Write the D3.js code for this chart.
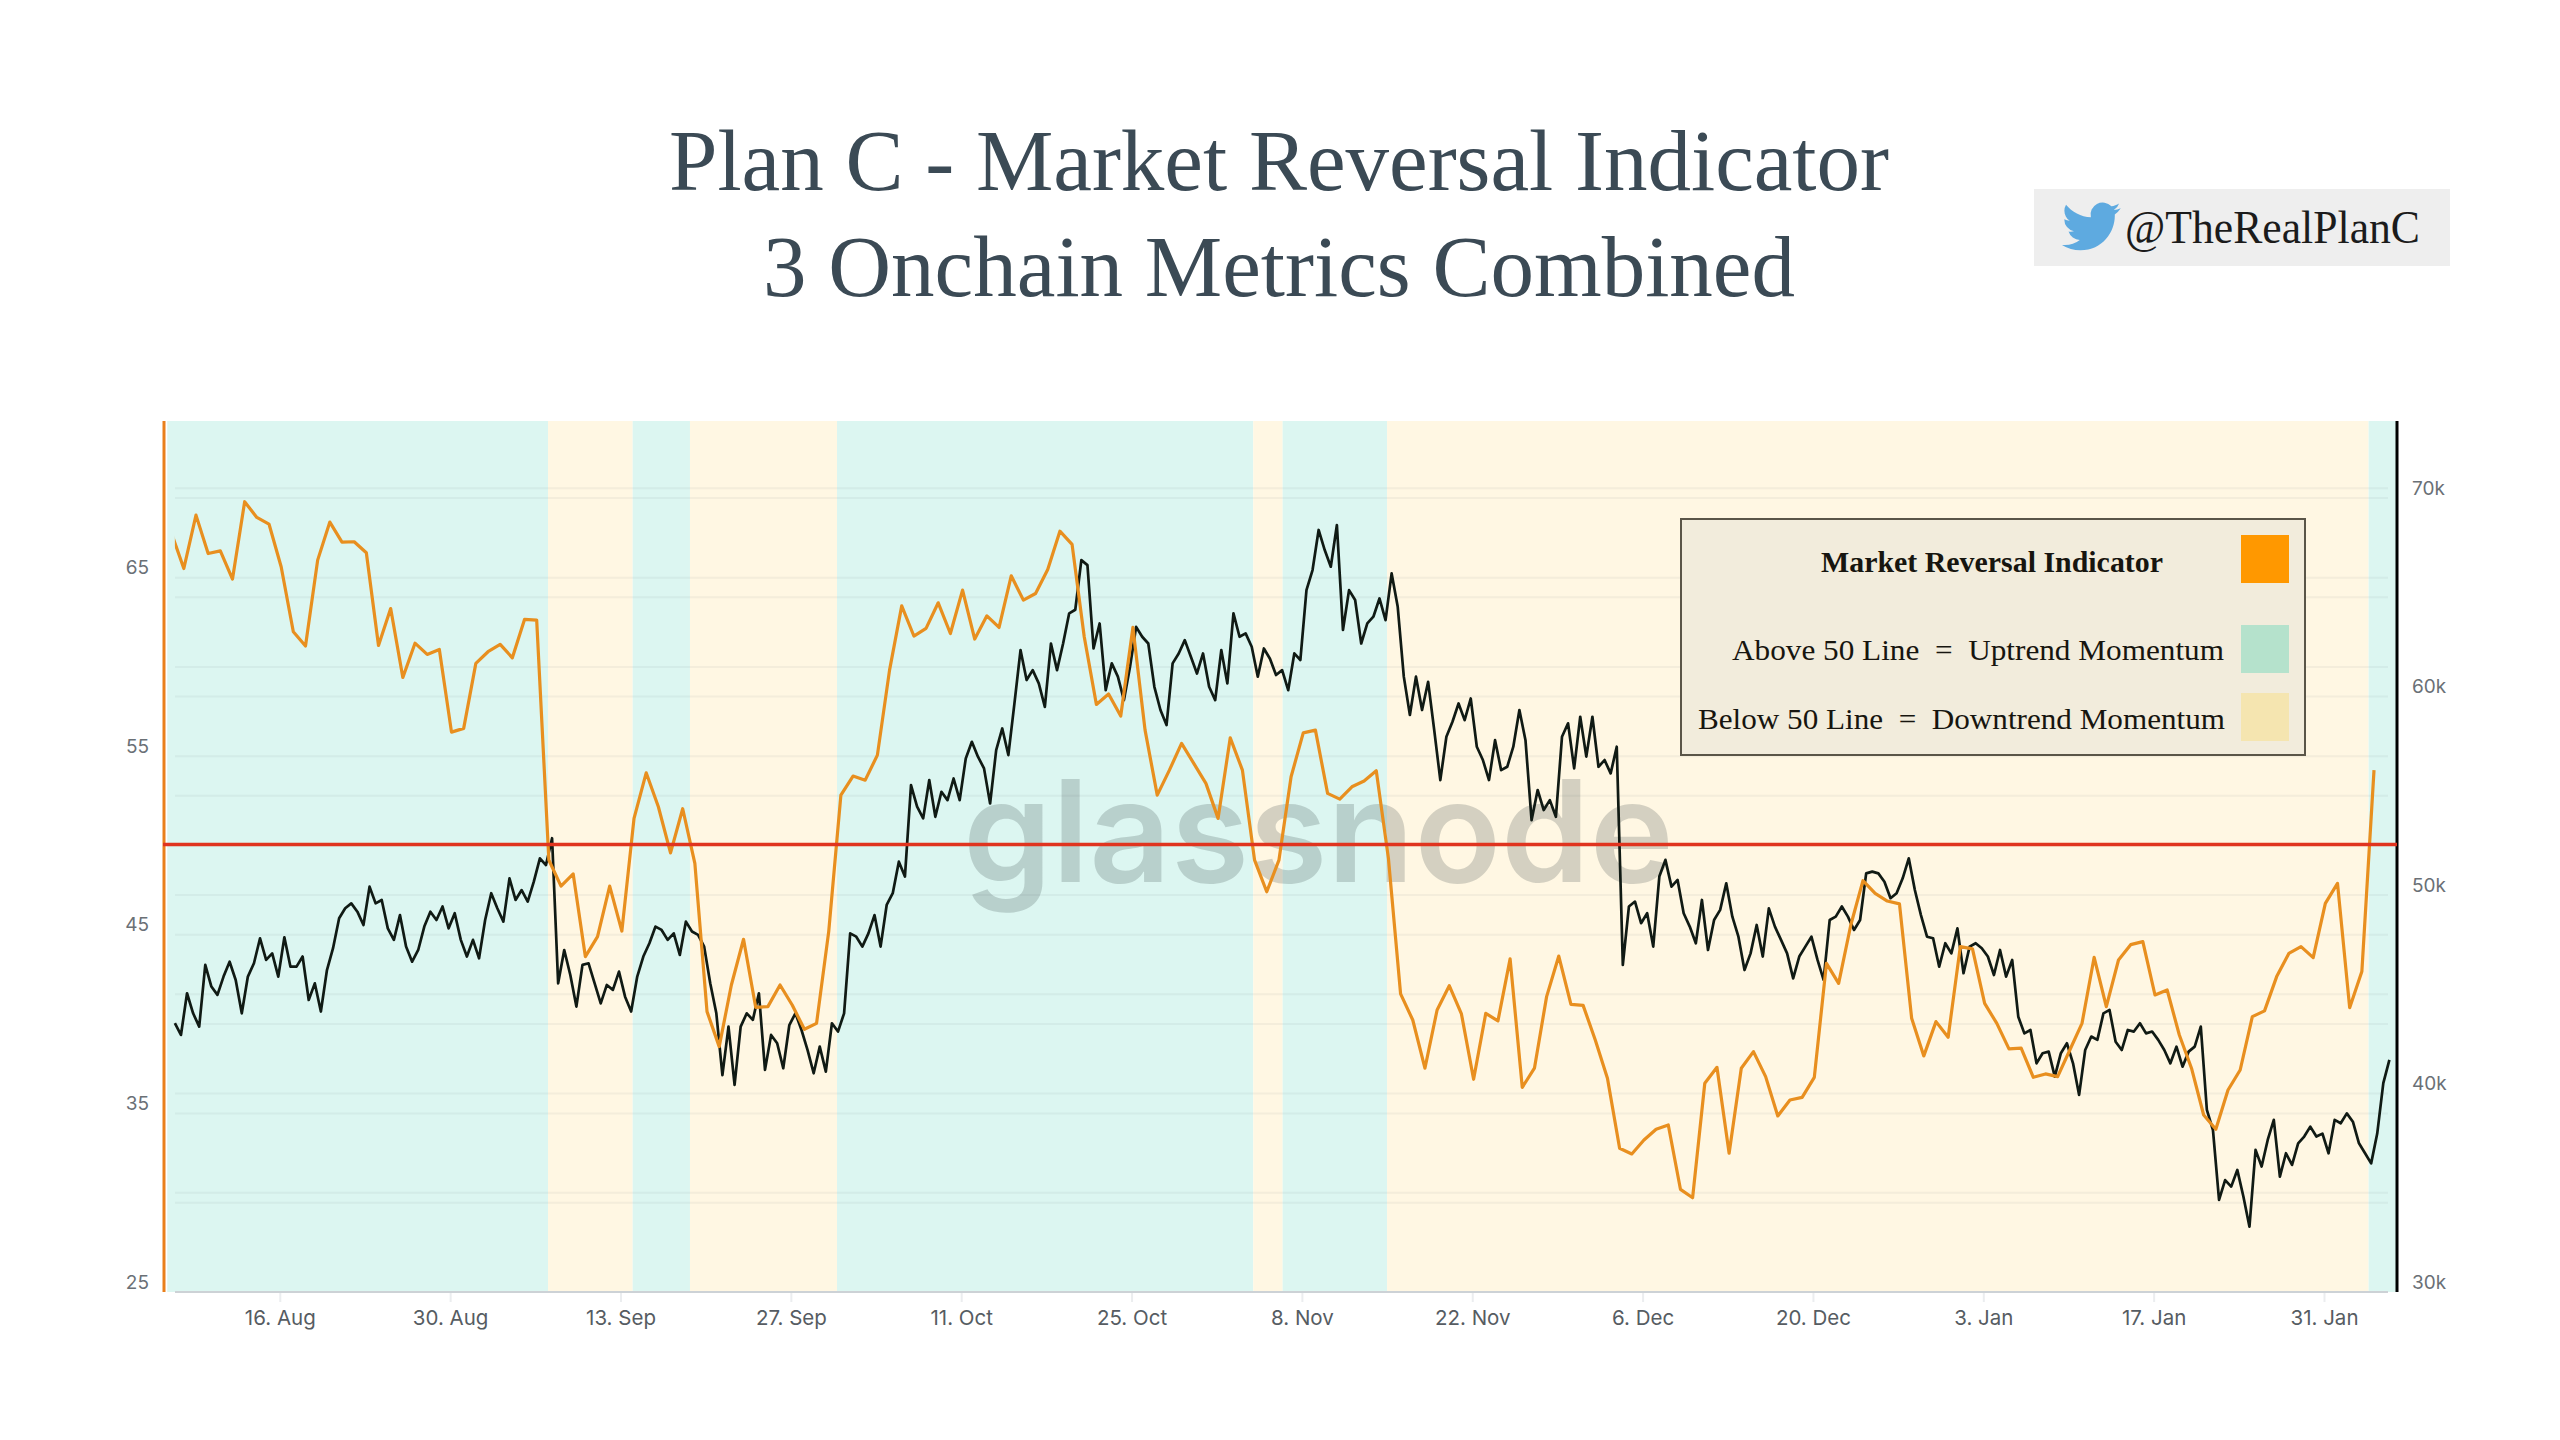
<!DOCTYPE html>
<html>
<head>
<meta charset="utf-8">
<title>Plan C - Market Reversal Indicator</title>
<script src="https://cdn.jsdelivr.net/npm/d3@7"></script>
<style>
    html, body { margin: 0; padding: 0; background: #fff; }
    svg { display: block; }
    .serif { font-family: "Liberation Serif", serif; white-space: pre; }
    .tick text { font-family: Inter, sans-serif; }
</style>
</head>
<body>
<svg id="chart" width="2560" height="1440"></svg>
<script>
// title
var titleLines = ["Plan C - Market Reversal Indicator", "3 Onchain Metrics Combined"];
var handle = "@TheRealPlanC";
var legendLines = ["Market Reversal Indicator", "Above 50 Line  =  Uptrend Momentum", "Below 50 Line  =  Downtrend Momentum"];

// x axis
var xTickDates = ["2021-08-16", "2021-08-30", "2021-09-13", "2021-09-27", "2021-10-11", "2021-10-25", "2021-11-08",
    "2021-11-22", "2021-12-06", "2021-12-20", "2022-01-03", "2022-01-17", "2022-01-31"];

// left axis (indicator), right axis (price in thousands). The minor ones only have a grid line
var leftTicks = [25, 35, 45, 55, 65];
var leftMinorTicks = [30, 40, 60, 70];
var rightTicks = [30, 40, 50, 60, 70];
var rightMinorTicks = [35, 45, 55, 65];

// background bands: band i goes from bandEdges[i] to bandEdges[i+1]
var bandEdges = ["2021-08-06T18:00Z", "2021-09-07T01:00Z", "2021-09-14T00:00Z", "2021-09-18T17:00Z", "2021-09-30T19:00Z",
    "2021-11-04T00:00Z", "2021-11-06T10:00Z", "2021-11-15T00:00Z", "2022-02-03T16:00Z", "2022-02-06T00:00Z"];
var bandKinds = ["up", "down", "up", "down", "up", "down", "up", "down", "up"];

// Market Reversal Indicator, one value a day
var indicatorStart = "2021-08-07T02:40Z";
var indicatorValues = [67.47, 65.51, 68.50, 66.35, 66.50, 64.92, 69.25, 68.37, 68.00, 65.61,
    61.97, 61.17, 65.98, 68.11, 66.99, 67.01, 66.39, 61.20, 63.27, 59.41,
    61.33, 60.70, 60.98, 56.35, 56.56, 60.20, 60.85, 61.26, 60.51, 62.66,
    62.62, 49.19, 47.73, 48.41, 43.78, 44.90, 47.73, 45.21, 51.52, 54.07,
    52.17, 49.59, 52.06, 49.00, 40.70, 38.74, 42.19, 44.75, 40.94, 40.98,
    42.19, 41.07, 39.71, 40.04, 45.18, 52.82, 53.89, 53.66, 55.06, 59.82,
    63.42, 61.73, 62.16, 63.59, 61.87, 64.30, 61.56, 62.86, 62.21, 65.10,
    63.74, 64.11, 65.46, 67.60, 66.86, 61.69, 57.90, 58.48, 57.25, 62.21,
    56.46, 52.82, 54.22, 55.72, 54.60, 53.48, 51.52, 56.03, 54.22, 49.18,
    47.41, 49.18, 53.85, 56.31, 56.46, 52.92, 52.60, 53.29, 53.61, 54.19,
    49.28, 41.69, 40.23, 37.53, 40.79, 42.15, 40.57, 36.91, 40.60, 40.18,
    43.65, 36.46, 37.53, 41.54, 43.81, 41.11, 41.05, 39.11, 36.97, 33.05,
    32.73, 33.51, 34.11, 34.35, 30.75, 30.28, 36.69, 37.58, 32.77, 37.53,
    38.46, 37.06, 34.86, 35.75, 35.90, 37.02, 43.40, 42.28, 45.55, 48.03,
    47.32, 46.89, 46.73, 40.33, 38.22, 40.14, 39.26, 44.34, 44.21, 41.16,
    40.04, 38.61, 38.65, 37.02, 37.21, 37.06, 38.55, 40.04, 43.74, 40.98,
    43.59, 44.45, 44.62, 41.63, 41.91, 39.39, 37.53, 34.91, 34.11, 36.31,
    37.43, 40.42, 40.74, 42.66, 43.96, 44.34, 43.72, 46.76, 47.88, 40.92,
    42.94, 54.22];

// BTC price in thousands, one value per 12 hours
var priceStart = "2021-08-07T09:00Z";
var priceValues = [43.54, 42.95, 45.05, 44.04, 43.37, 46.48, 45.39, 44.97, 45.89, 46.64,
    45.72, 44.04, 45.89, 46.56, 47.82, 46.73, 47.06, 45.89, 47.87, 46.39,
    46.39, 46.90, 44.71, 45.55, 44.13, 46.22, 47.32, 48.83, 49.33, 49.58,
    49.16, 48.49, 50.42, 49.58, 49.75, 48.32, 47.74, 48.99, 47.40, 46.64,
    47.23, 48.41, 49.16, 48.74, 49.42, 48.32, 49.08, 47.74, 46.90, 47.74,
    46.81, 48.74, 50.09, 49.33, 48.66, 50.84, 49.75, 50.25, 49.67, 50.67,
    51.85, 51.51, 52.86, 45.55,
    47.23, 45.97, 44.38, 46.48, 46.56, 45.55, 44.54, 45.47, 45.22, 46.14,
    44.88, 44.13, 45.89, 46.90, 47.57, 48.41, 48.24, 47.74, 48.07, 46.98,
    48.66, 48.16, 47.99, 47.40, 45.55, 44.04, 40.93, 43.37, 40.43, 43.37,
    44.04, 43.71, 45.05, 41.19, 42.95, 42.53, 41.27, 43.45, 44.04, 43.20,
    42.19, 41.02, 42.36, 41.10, 43.54, 43.12, 44.04, 48.07, 47.90, 47.40,
    48.07, 48.99, 47.40, 49.50, 50.09, 51.68, 50.93,
    55.54, 54.45, 53.86, 55.79, 53.94, 55.20, 54.78, 55.87, 54.78, 56.88,
    57.72, 56.97, 56.38, 54.61, 57.30, 58.39, 57.05, 59.65, 62.34, 60.83,
    61.33, 60.66, 59.48, 62.67, 61.33, 62.67, 64.19, 64.37, 66.87, 66.62,
    62.42, 63.68, 60.32, 61.67, 61.00, 59.82, 61.50, 63.51, 63.01, 62.67,
    60.49, 59.32, 58.56, 61.67, 62.17, 62.84, 62.00, 61.16, 62.17, 60.49,
    59.82, 62.34, 60.66, 64.19, 63.01, 63.18, 62.51, 61.00, 62.42, 61.90,
    61.08, 61.33, 60.32, 62.17, 61.84, 65.36, 66.37, 68.39, 67.38, 66.54,
    68.64, 63.35, 65.36, 64.86, 62.67, 63.68, 64.02, 64.94, 63.85, 66.20,
    64.52, 61.00, 59.07, 61.00, 59.32, 60.74, 58.31, 55.79, 57.97, 58.73,
    59.65, 58.81, 59.90, 57.47, 56.80, 55.79, 57.80, 56.29, 56.46, 57.47,
    59.32, 57.80, 53.77, 55.29, 54.28, 54.78, 53.94, 57.97, 58.65, 56.38,
    58.98, 56.97, 58.98, 56.46, 56.80, 56.13, 57.47,
    46.48, 49.42, 49.67, 48.58, 49.08, 47.40, 50.93, 51.77, 50.42, 50.76,
    49.08, 48.41, 47.57, 49.75, 47.23, 48.74, 49.25, 50.59, 48.91, 47.90,
    46.22, 47.06, 48.49, 46.90, 49.33, 48.41, 47.74, 47.06, 45.80, 46.90,
    47.40, 47.90, 46.73, 45.72, 48.74, 48.91, 49.42, 48.91, 48.24, 48.74,
    51.09, 51.18, 51.09, 50.67, 49.84, 50.09, 50.84, 51.85, 50.25, 48.99,
    47.90, 47.82, 46.39, 47.57, 47.06, 48.32, 46.06, 47.40, 47.57, 47.32,
    46.90, 45.97, 47.23, 45.89, 46.73, 43.87, 43.03, 43.20, 41.52, 42.03,
    42.11, 40.85, 42.03, 42.53, 41.52, 39.93, 42.19, 42.87, 42.70, 44.04,
    44.21, 42.61, 42.19, 43.20, 43.12, 43.54, 43.03, 43.12, 42.70, 42.19,
    41.52, 42.36, 41.35, 42.11, 42.36, 43.37, 39.17, 38.16, 34.64, 35.64,
    35.31, 36.15, 34.81, 33.29, 37.16, 36.32, 37.66, 38.67, 35.81, 36.99,
    36.40, 37.49, 37.83, 38.33, 37.83, 37.98, 36.99, 38.67, 38.50, 39.00,
    38.58, 37.49, 36.99, 36.48, 37.98, 40.52, 41.69];

var reversalLevel = 50;

var bandColor = {up: "#dcf6f1", down: "#fff7e3"};
var legendSwatches = ["#ff9800", "#b5e2cc", "#f5e5b0"];

var plot = {left: 163, right: 2397, top: 421, bottom: 1292};
var HOUR = 3600000;

var xScale = d3.scaleUtc()
    .domain([new Date("2021-08-06T09:36Z"), new Date("2022-02-06T00:00Z")])
    .range([plot.left, plot.right]);
var yLeft = d3.scaleLinear().domain([25, 73.77]).range([plot.bottom, plot.top]);
var yRight = d3.scaleLinear().domain([30, 73.88]).range([plot.bottom, plot.top]);

var svg = d3.select("#chart");
svg.append("rect").attr("width", 2560).attr("height", 1440).attr("fill", "#fff");

// 标题
svg.selectAll("text.title").data(titleLines).enter().append("text")
    .attr("class", "title serif")
    .attr("x", 1279)
    .attr("y", function (d, i) { return i == 0 ? 190 : 296; })
    .attr("text-anchor", "middle")
    .attr("font-size", 86)
    .attr("fill", "#3b4a55")
    .attr("textLength", function (d, i) { return i == 0 ? 1220 : 1032; })
    .attr("lengthAdjust", "spacingAndGlyphs")
    .text(function (d) { return d; });

// twitter badge
svg.append("rect").attr("x", 2034).attr("y", 189).attr("width", 416).attr("height", 77).attr("fill", "#eeeeee");
svg.append("path")
    .attr("transform", "translate(2062,197) scale(2.45)")
    .attr("fill", "#5eaae0")
    .attr("d", "M23.953 4.57a10 10 0 01-2.825.775 4.958 4.958 0 002.163-2.723c-.951.555-2.005.959-3.127 1.184a4.92 4.92 0 00-8.384 4.482C7.69 8.095 4.067 6.13 1.64 3.162a4.822 4.822 0 00-.666 2.475c0 1.71.87 3.213 2.188 4.096a4.904 4.904 0 01-2.228-.616v.06a4.923 4.923 0 003.946 4.827 4.996 4.996 0 01-2.212.085 4.936 4.936 0 004.604 3.417 9.867 9.867 0 01-6.102 2.105c-.39 0-.779-.023-1.17-.067a13.995 13.995 0 007.557 2.209c9.053 0 13.998-7.496 13.998-13.985 0-.21 0-.42-.015-.63A9.935 9.935 0 0024 4.59z");
svg.append("text").attr("class", "serif")
    .attr("x", 2125).attr("y", 243)
    .attr("font-size", 46).attr("fill", "#1b1b1b")
    .attr("textLength", 295).attr("lengthAdjust", "spacingAndGlyphs")
    .text(handle);

// background bands
svg.selectAll("rect.band").data(bandKinds).enter().append("rect")
    .attr("class", "band")
    .attr("x", function (d, i) { return xScale(new Date(bandEdges[i])); })
    .attr("width", function (d, i) { return xScale(new Date(bandEdges[i + 1])) - xScale(new Date(bandEdges[i])); })
    .attr("y", plot.top)
    .attr("height", plot.bottom - plot.top)
    .attr("fill", function (d) { return bandColor[d]; });

// grid lines of both axes
function drawGrid(scale, values) {
    svg.append("g").selectAll("line").data(values).enter().append("line")
        .attr("x1", 175).attr("x2", 2388)
        .attr("y1", function (d) { return scale(d); })
        .attr("y2", function (d) { return scale(d); })
        .attr("stroke", "#6f7f80").attr("stroke-opacity", 0.08).attr("stroke-width", 2);
}
drawGrid(yLeft, leftTicks.concat(leftMinorTicks));
drawGrid(yRight, rightTicks.concat(rightMinorTicks));

// glassnode watermark
svg.append("text")
    .attr("x", 963).attr("y", 882)
    .attr("font-family", "Inter, sans-serif")
    .attr("font-size", 142)
    .attr("font-weight", 600)
    .attr("fill", "#3c4a4a").attr("fill-opacity", 0.22)
    .attr("textLength", 711).attr("lengthAdjust", "spacingAndGlyphs")
    .text("glassnode");

// x axis
var xAxis = d3.axisBottom(xScale)
    .tickValues(xTickDates.map(function (d) { return new Date(d + "T00:00Z"); }))
    .tickFormat(function (d) {
        return d.getUTCDate() + ". " + d3.utcFormat("%b")(d);
    })
    .tickSize(10).tickPadding(8);
var xGroup = svg.append("g").attr("transform", "translate(0," + plot.bottom + ")").call(xAxis);
xGroup.select(".domain").remove();
xGroup.append("line").attr("x1", 175).attr("x2", 2388).attr("stroke", "#cdd2d6").attr("stroke-width", 2);
xGroup.selectAll(".tick line").attr("stroke", "#ebedef").attr("stroke-width", 2);
xGroup.selectAll(".tick text").attr("font-size", 20.5).attr("fill", "#565c62").attr("font-family", "Inter, sans-serif");

// left and right axes, their labels sit above the grid line
var leftGroup = svg.append("g").attr("transform", "translate(" + (plot.left - 14) + ",0)")
    .call(d3.axisLeft(yLeft).tickValues(leftTicks).tickSize(0).tickPadding(0));
var rightGroup = svg.append("g").attr("transform", "translate(" + (plot.right + 15) + ",0)")
    .call(d3.axisRight(yRight).tickValues(rightTicks).tickSize(0).tickPadding(0)
        .tickFormat(function (d) { return d + "k"; }));
[leftGroup, rightGroup].forEach(function (g) {
    g.select(".domain").remove();
    g.selectAll(".tick text")
        .attr("y", -10)
        .attr("font-size", 19).attr("fill", "#6a7076").attr("font-family", "Inter, sans-serif");
});

// axis lines, orange on the left and black on the right
svg.append("line").attr("x1", plot.left + 1).attr("x2", plot.left + 1).attr("y1", plot.top).attr("y2", plot.bottom)
    .attr("stroke", "#e9801c").attr("stroke-width", 3);
svg.append("line").attr("x1", plot.right).attr("x2", plot.right).attr("y1", plot.top).attr("y2", plot.bottom)
    .attr("stroke", "#000").attr("stroke-width", 3);

// both series start at the same spot, the first indicator segment is cut there
svg.append("clipPath").attr("id", "seriesClip").append("rect")
    .attr("x", xScale(new Date(priceStart))).attr("y", plot.top)
    .attr("width", plot.right - xScale(new Date(priceStart))).attr("height", plot.bottom - plot.top);

var priceT0 = new Date(priceStart).getTime();
var priceLine = d3.line()
    .x(function (d, i) { return xScale(new Date(priceT0 + i * 12 * HOUR)); })
    .y(function (d) { return yRight(d); });
svg.append("path").datum(priceValues)
    .attr("fill", "none").attr("stroke", "#101a14").attr("stroke-width", 2.7).attr("stroke-linejoin", "round")
    .attr("d", priceLine);

var indicatorT0 = new Date(indicatorStart).getTime();
var indicatorLine = d3.line()
    .x(function (d, i) { return xScale(new Date(indicatorT0 + i * 24 * HOUR)); })
    .y(function (d) { return yLeft(d); });
svg.append("path").datum(indicatorValues)
    .attr("clip-path", "url(#seriesClip)")
    .attr("fill", "none").attr("stroke", "#e88f1f").attr("stroke-width", 3.2).attr("stroke-linejoin", "round")
    .attr("d", indicatorLine);

// 50 line
svg.append("line")
    .attr("x1", plot.left).attr("x2", plot.right)
    .attr("y1", yLeft(reversalLevel) - 1).attr("y2", yLeft(reversalLevel) - 1)
    .attr("stroke", "#e0341f").attr("stroke-width", 3.6);

// legend
svg.append("rect").attr("x", 1681).attr("y", 519).attr("width", 624).attr("height", 236)
    .attr("fill", "#f2ecdc").attr("stroke", "#5a5548").attr("stroke-width", 2);
svg.selectAll("rect.swatch").data(legendSwatches).enter().append("rect")
    .attr("class", "swatch")
    .attr("x", 2241).attr("width", 48).attr("height", 48)
    .attr("y", function (d, i) { return [535, 625, 693][i]; })
    .attr("fill", function (d) { return d; });
svg.selectAll("text.legend").data(legendLines).enter().append("text")
    .attr("class", "legend serif")
    .attr("x", function (d, i) { return [1821, 1732, 1698][i]; })
    .attr("y", function (d, i) { return [572, 660, 729][i]; })
    .attr("font-size", 30)
    .attr("font-weight", function (d, i) { return i == 0 ? "bold" : "normal"; })
    .attr("fill", "#17150f")
    .attr("textLength", function (d, i) { return [342, 492, 527][i]; })
    .attr("lengthAdjust", "spacingAndGlyphs")
    .text(function (d) { return d; });
</script>
</body>
</html>
